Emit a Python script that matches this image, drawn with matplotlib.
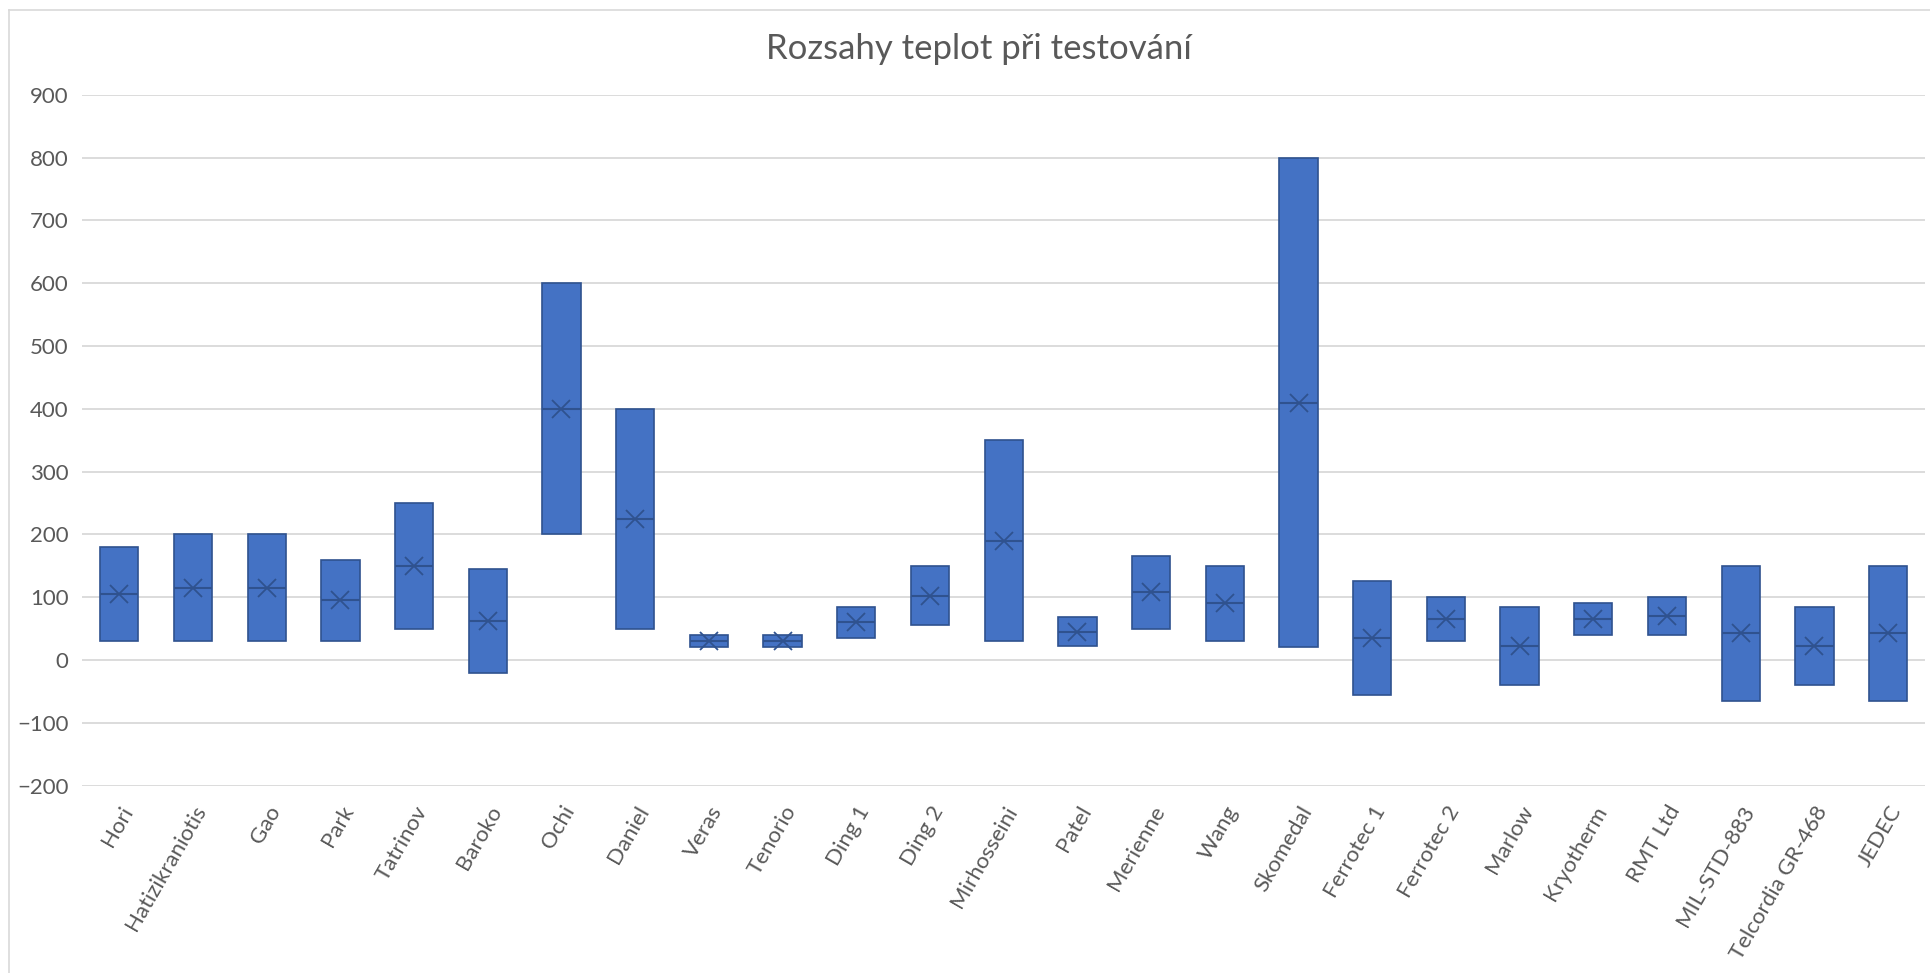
import numpy as np
import matplotlib.pyplot as plt
from matplotlib.lines import Line2D

plt.rcParams['font.family'] = ['Lato', 'DejaVu Sans']

names = ['Hori', 'Hatizikraniotis', 'Gao', 'Park', 'Tatrinov', 'Baroko', 'Ochi',
         'Daniel', 'Veras', 'Tenorio', 'Ding 1', 'Ding 2', 'Mirhosseini', 'Patel',
         'Merienne', 'Wang', 'Skomedal', 'Ferrotec 1', 'Ferrotec 2', 'Marlow',
         'Kryotherm', 'RMT Ltd', 'MIL-STD-883', 'Telcordia GR-468', 'JEDEC']
t_min = [30, 30, 30, 30, 50, -20, 200, 50, 20, 20, 35, 55, 30, 22,
         50, 30, 20, -55, 30, -40, 40, 40, -65, -40, -65]
t_max = [180, 200, 200, 160, 250, 145, 600, 400, 40, 40, 85, 150, 350, 68,
         165, 150, 800, 125, 100, 85, 90, 100, 150, 85, 150]

fill = '#4472C4'
dark = '#2F528F'

fig = plt.figure(figsize=(19.3, 9.73), dpi=100)
ax = fig.add_axes([0.0427, 0.1926, 0.9547, 0.71])

x = np.arange(len(names))
lo = np.array(t_min)
hi = np.array(t_max)
data = [[a, b] for a, b in zip(t_min, t_max)]
mean = np.array([np.mean(d) for d in data])
med = np.array([np.median(d) for d in data])

w = 0.52
ax.bar(x, hi - lo, bottom=lo, width=w, color=fill, edgecolor=dark, linewidth=1.2, zorder=3)
ax.hlines(med, x - w / 2, x + w / 2, color=dark, linewidth=1.5, zorder=4)
ax.plot(x, mean, 'x', color=dark, markersize=13, markeredgewidth=1.3, zorder=5)

ax.set_xlim(-0.5, len(names) - 0.5)
ax.set_ylim(-200, 900)
ax.set_yticks(np.arange(-200, 901, 100))
ax.grid(axis='y', color='#D9D9D9', linewidth=1.3, zorder=0)
ax.set_axisbelow(True)
for s in ax.spines.values():
    s.set_visible(False)
ax.tick_params(axis='both', length=0, labelsize=16, colors='#595959', pad=10)
ax.set_xticks(x)
ax.set_xticklabels(names, rotation=60, ha='right', rotation_mode='anchor')
ax.tick_params(axis='x', pad=12)

fig.text(0.507, 0.95, 'Rozsahy teplot při testování', ha='center', va='center',
         fontsize=25, color='#595959')

# chart frame (left and top edges visible in the screenshot)
fig.lines.append(Line2D([0.0045, 0.0045], [0.0, 0.99], transform=fig.transFigure,
                        color='#D9D9D9', linewidth=1.2))
fig.lines.append(Line2D([0.0045, 1.0], [0.99, 0.99], transform=fig.transFigure,
                        color='#D9D9D9', linewidth=1.2))

fig.savefig('out.png', dpi=100)
